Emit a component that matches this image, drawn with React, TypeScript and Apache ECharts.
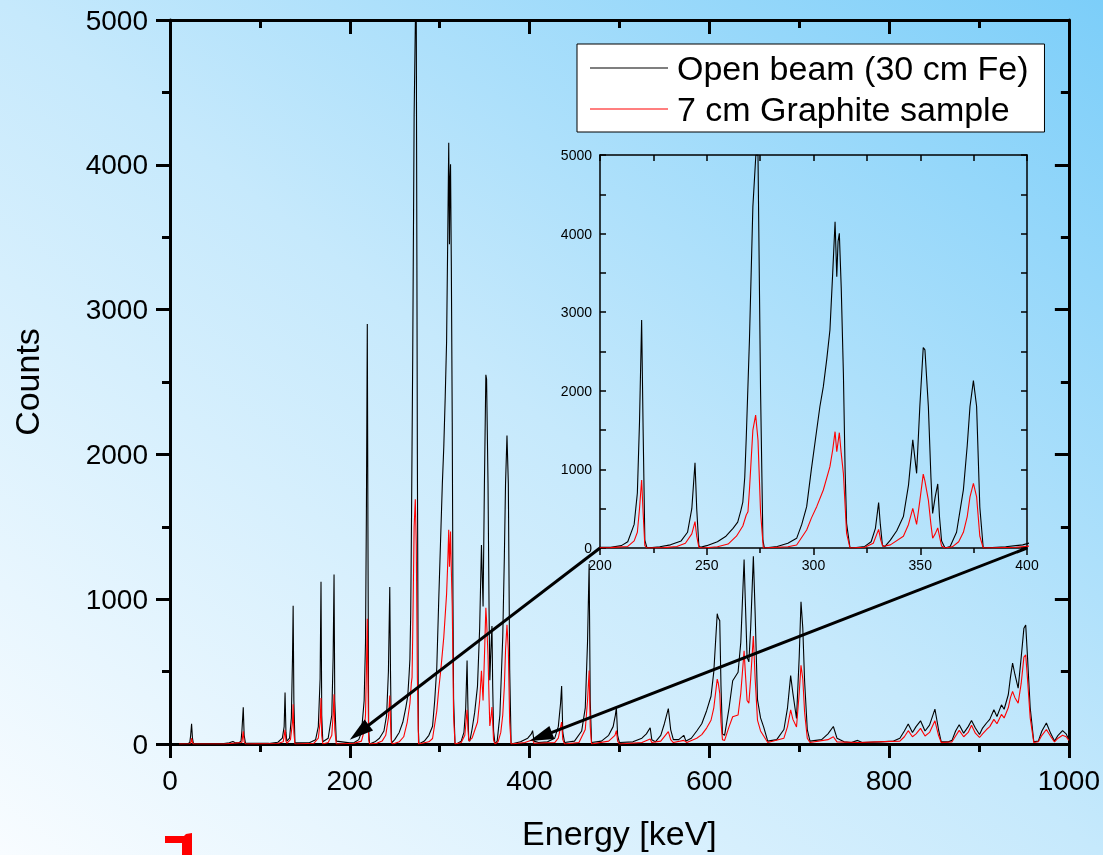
import React, { useEffect, useRef } from "react";
import * as echarts from "echarts";

// Gamma spectra: [energy keV, counts]
const OPEN_BEAM: [number, number][] = [
  [10, 0], [20, 2], [22, 10], [23, 60], [24, 140], [25, 40], [26, 5], [30, 2],
  [60, 3], [66, 8], [70, 18], [72, 10], [76, 6], [79, 20], [80, 90], [81.5, 253], [82.5, 60], [84, 5],
  [110, 4], [120, 12], [125, 40], [127, 120], [128, 356], [129, 80], [130, 20], [133, 40], [135, 180], [136.3, 600], [137, 955], [137.8, 300], [139, 10],
  [155, 8], [162, 30], [165, 120], [167, 450], [168, 1120], [168.8, 200], [170, 15], [176, 40], [180, 200], [181.5, 600], [182.5, 1170], [183.3, 300], [185, 20],
  [200, 8], [205, 10], [210, 30], [213, 80], [216, 300], [217.5, 700], [218.5, 1600], [219.5, 2900], [220.2, 1500], [221, 100], [222, 0],
  [228, 15], [233, 40], [238, 90], [241, 200], [243, 500], [244.5, 1085], [245.3, 500], [246.3, 30], [247, 10],
  [250, 30], [255, 80], [259, 150], [262.3, 250], [264.5, 330], [266, 480], [266.9, 585], [267.8, 900], [268.5, 1400], [270, 2650], [271.6, 4340], [273, 5000], [274, 5000], [275.2, 2000], [276.3, 100], [277, 0],
  [283, 20], [288, 60], [292.1, 123], [294.5, 300], [296.8, 526], [299, 1000], [301.5, 1501], [303, 1800], [304.6, 2053], [306.2, 2400], [307.7, 2774], [309, 3500], [310.1, 4152], [310.9, 3452], [311.5, 3900], [312.1, 4003], [313, 3300], [314, 2222], [314.8, 1000], [315.5, 314], [317.1, 0],
  [320, 5], [324, 20], [327, 80], [329, 250], [330.5, 577], [331.3, 300], [332.3, 30],
  [333.5, 20], [336, 100], [339, 220], [342.1, 400], [344.5, 800], [346.5, 1375], [348.3, 950], [349.8, 1800], [351.4, 2550], [352.2, 2520], [353.8, 1800], [355, 900], [355.8, 440], [357, 650], [358.2, 815], [359, 400], [360, 90], [361.6, 0],
  [364, 20], [367, 200], [370.2, 740], [372, 1300], [373.3, 1800], [374.9, 2130], [376.4, 1800], [377.9, 520], [379.5, 0],
  [390, 15], [398, 40], [402, 70], [403.4, 92], [405, 20], [410, 10], [420, 15], [428, 40], [432, 120], [434.5, 280], [435.7, 401], [437, 80], [439, 10],
  [450, 20], [458, 90], [462, 250], [464.5, 700], [466.3, 1243], [467.5, 300], [469, 10],
  [480, 20], [488, 60], [493, 120], [495.5, 200], [496.6, 252], [498, 60], [500, 10],
  [515, 15], [525, 40], [530, 70], [534.2, 112], [536, 30], [540, 15], [546, 60], [550, 140], [554.4, 245], [557, 100], [560, 30], [566, 30], [571.6, 60], [574, 20],
  [580, 40], [586, 90], [591.6, 140], [597, 230], [601.9, 330], [605, 500], [608.8, 900], [610, 870], [611.6, 852], [613, 400], [614.6, 69], [617, 60],
  [622, 250], [626, 437], [632, 496], [635, 700], [638.7, 1274], [640, 1000], [642, 600], [644, 567], [646, 800], [649, 1297], [651, 900], [653.6, 306], [657, 180], [660.5, 117], [665, 20],
  [675, 30], [683, 100], [687, 250], [690.5, 472], [693, 350], [697, 176], [700, 600], [702, 982], [704, 800], [706, 435], [709, 100], [712, 20],
  [725, 30], [732, 70], [738, 121], [742, 40], [750, 15], [758, 10], [765, 25], [770, 10], [790, 15],
  [805, 20], [812, 40], [817, 90], [821.3, 138], [826, 80], [830, 120], [835, 160], [840, 90], [845, 130], [851, 241], [855, 100], [858, 15],
  [866, 15], [870, 25], [874, 90], [878, 133], [883, 75], [888, 120], [891.7, 163], [896, 110], [900.6, 66], [904, 110], [908.4, 145], [912, 170],
  [916.6, 236], [920, 190], [925, 270], [928, 240], [932.6, 340], [935, 460], [937.4, 558], [940, 480], [943.6, 386], [947, 600], [950, 800], [952, 822], [954, 600], [957, 250], [961, 15],
  [966, 20], [970, 90], [975, 145], [980, 70], [984, 20], [988, 60], [993, 92], [997, 70], [1000, 30],
];

const GRAPHITE: [number, number][] = [
  [10, 0], [22, 2], [23.5, 15], [24, 40], [25, 10], [26, 0], [60, 0], [70, 5], [80, 10], [81.5, 87], [82.5, 15], [84, 0],
  [120, 3], [126, 15], [128, 98], [129, 20], [130, 5], [134, 30], [136.3, 150], [137, 275], [137.8, 80], [139, 0],
  [160, 5], [165, 40], [167, 150], [168, 317], [168.8, 60], [170, 0], [176, 10], [180, 60], [181.5, 200], [182.5, 344], [183.3, 100], [185, 0],
  [205, 5], [213, 20], [216, 90], [217.5, 200], [218.5, 500], [219.5, 865], [220.2, 450], [221, 30], [222, 0],
  [230, 5], [236, 20], [240, 60], [243, 180], [244.5, 335], [245.3, 150], [246.3, 10], [248, 0],
  [255, 15], [260, 50], [263.9, 150], [266.9, 280], [268.5, 420], [269.3, 460], [270, 740], [271.6, 1500], [272.9, 1690], [274, 1374], [275.2, 460], [276.5, 0],
  [288, 15], [292.1, 38], [296.8, 229], [299, 380], [301.5, 526], [304.6, 738], [307.7, 1035], [309, 1250], [310.1, 1480], [310.9, 1225], [312.1, 1467], [313, 1200], [314, 950], [315.5, 187], [317.1, 0],
  [324, 10], [328, 60], [330.5, 237], [331.5, 100], [332.5, 20],
  [336, 40], [342.1, 150], [344.5, 300], [346.5, 505], [348.3, 300], [349.8, 600], [351.4, 940], [352.2, 850], [353.8, 610], [355, 300], [355.8, 125], [357, 180], [358.2, 255], [359, 150], [360, 25], [361.6, 0],
  [365, 15], [368, 80], [370.2, 200], [372, 400], [373.3, 650], [374.9, 823], [376.4, 650], [377.9, 150], [379.5, 0],
  [395, 10], [403.4, 30], [405, 5], [428, 10], [432, 40], [435.7, 152], [437, 30], [439, 0],
  [455, 10], [462, 100], [464.5, 300], [466.3, 508], [467.5, 120], [469, 0],
  [488, 20], [495, 60], [496.6, 93], [498, 20], [500, 0],
  [525, 10], [534.2, 34], [536, 10], [546, 20], [554.4, 86], [557, 30], [560, 10], [571.6, 25], [575, 10],
  [586, 40], [591.6, 65], [597, 110], [601.9, 164], [605, 250], [608.8, 448], [610, 420], [611.6, 350], [613, 150], [614.6, 30], [617, 25],
  [622, 120], [626, 188], [632, 200], [635, 350], [638.7, 643], [640, 500], [642, 300], [644, 282], [646, 450], [649, 745], [651, 450], [653.6, 165], [657, 90], [660.5, 55], [665, 10],
  [683, 40], [687, 120], [690.5, 235], [693, 170], [697, 117], [700, 350], [702, 544], [704, 450], [706, 220], [709, 40], [712, 10],
  [732, 30], [738, 50], [742, 15], [765, 10],
  [812, 20], [817, 50], [821.3, 92], [826, 50], [830, 70], [835, 108], [840, 55], [845, 80], [851, 160], [855, 60], [858, 10],
  [870, 15], [874, 55], [878, 94], [883, 50], [888, 80], [891.7, 130], [896, 75], [900.6, 45], [904, 70], [908.4, 100], [912, 120],
  [916.6, 170], [920, 140], [925, 204], [928, 180], [932.6, 250], [935, 320], [937.4, 363], [940, 320], [943.6, 282], [947, 420], [950, 600], [952, 615], [954, 450], [957, 180], [961, 10],
  [966, 15], [970, 60], [975, 100], [980, 50], [984, 15], [988, 40], [993, 60], [997, 50], [1000, 25],
];

const SERIES_NAMES = ["Open beam (30 cm Fe)", "7 cm Graphite sample"];
const SERIES_COLORS = ["#000000", "#ff0000"];

// Axis ranges / steps
const MAIN_X = { min: 0, max: 1000, interval: 200 };
const MAIN_Y = { min: 0, max: 5000, interval: 1000 };
const ZOOM_X = { min: 200, max: 400, interval: 50 };
const ZOOM_Y = { min: 0, max: 5000, interval: 1000 };

// Points the zoom arrows aim at, in main-plot data units
const ARROW_TARGETS: [number, number][] = [[200, 30], [400, 20]];

const FONT = "Liberation Sans, Arial, sans-serif";

function axisBase(
  range: { min: number; max: number; interval: number },
  opts: {
    gridIndex: number;
    position: string;
    labels: boolean;
    inside: boolean;
    lineWidth: number;
    tickLen: number;
    minorLen: number;
    fontSize: number;
    labelMargin: number;
  }
) {
  return {
    type: "value",
    gridIndex: opts.gridIndex,
    position: opts.position,
    min: range.min,
    max: range.max,
    interval: range.interval,
    axisLine: { show: true, onZero: false, lineStyle: { color: "#000", width: opts.lineWidth } },
    axisTick: { show: true, inside: opts.inside, length: opts.tickLen, lineStyle: { color: "#000", width: opts.lineWidth } },
    minorTick: { show: true, splitNumber: 2, length: opts.minorLen, lineStyle: { color: "#000", width: opts.lineWidth } },
    splitLine: { show: false },
    minorSplitLine: { show: false },
    axisLabel: {
      show: opts.labels,
      color: "#000",
      fontFamily: FONT,
      fontSize: opts.fontSize,
      margin: opts.labelMargin,
      formatter: (v: number) => String(v),
    },
  };
}

export default function App() {
  const ref = useRef<HTMLDivElement>(null);

  useEffect(() => {
    if (!ref.current) return;
    const chart = echarts.init(ref.current, undefined, { renderer: "svg" });

    const mainX = axisBase(MAIN_X, { gridIndex: 0, position: "bottom", labels: true, inside: false, lineWidth: 3, tickLen: 14, minorLen: 8, fontSize: 28, labelMargin: 22 });
    const mainXTop = axisBase(MAIN_X, { gridIndex: 0, position: "top", labels: false, inside: true, lineWidth: 3, tickLen: 14, minorLen: 8, fontSize: 28, labelMargin: 8 });
    const mainY = axisBase(MAIN_Y, { gridIndex: 0, position: "left", labels: true, inside: false, lineWidth: 3, tickLen: 14, minorLen: 8, fontSize: 28, labelMargin: 22 });
    const mainYRight = axisBase(MAIN_Y, { gridIndex: 0, position: "right", labels: false, inside: true, lineWidth: 3, tickLen: 14, minorLen: 8, fontSize: 28, labelMargin: 8 });
    const zoomX = axisBase(ZOOM_X, { gridIndex: 1, position: "bottom", labels: true, inside: false, lineWidth: 1.5, tickLen: 7, minorLen: 5, fontSize: 14, labelMargin: 10 });
    const zoomXTop = axisBase(ZOOM_X, { gridIndex: 1, position: "top", labels: false, inside: true, lineWidth: 1.5, tickLen: 6, minorLen: 6, fontSize: 14, labelMargin: 8 });
    const zoomY = axisBase(ZOOM_Y, { gridIndex: 1, position: "left", labels: true, inside: true, lineWidth: 1.5, tickLen: 6, minorLen: 6, fontSize: 14, labelMargin: 8 });
    const zoomYRight = axisBase(ZOOM_Y, { gridIndex: 1, position: "right", labels: false, inside: true, lineWidth: 1.5, tickLen: 6, minorLen: 6, fontSize: 14, labelMargin: 8 });

    Object.assign(mainX, {
      name: "Energy [keV]",
      nameLocation: "middle",
      nameGap: 72,
      nameTextStyle: { fontFamily: FONT, fontSize: 34, color: "#000" },
    });
    Object.assign(mainY, {
      name: "Counts",
      nameLocation: "middle",
      nameGap: 126,
      nameTextStyle: { fontFamily: FONT, fontSize: 34, color: "#000" },
    });

    const lineSeries = (idx: number, data: [number, number][], axisIndex: number) => ({
      type: "line",
      name: SERIES_NAMES[idx],
      xAxisIndex: axisIndex,
      yAxisIndex: axisIndex,
      data: axisIndex === 0 ? data : data.filter((d) => d[0] >= 180 && d[0] <= 420),
      symbol: "none",
      showSymbol: false,
      clip: true,
      lineStyle: { color: SERIES_COLORS[idx], width: 1.1 },
      itemStyle: { color: SERIES_COLORS[idx] },
      z: 3 + idx,
    });

    chart.setOption({
      animation: false,
      grid: [
        { left: 170, top: 20, width: 899, height: 726 },
        { left: 600, top: 155, width: 427, height: 393 },
      ],
      xAxis: [mainX, mainXTop, zoomX, zoomXTop],
      yAxis: [mainY, mainYRight, zoomY, zoomYRight],
      legend: {
        orient: "vertical",
        left: 577,
        top: 44,
        padding: [7, 16, 6, 13],
        itemGap: 7,
        itemWidth: 78,
        itemHeight: 1,
        icon: "rect",
        backgroundColor: "#ffffff",
        borderColor: "#000",
        borderWidth: 1,
        borderRadius: 0,
        data: SERIES_NAMES,
        textStyle: { fontFamily: FONT, fontSize: 34, color: "#000", padding: [0, 0, 0, 4] },
      },
      series: [
        lineSeries(0, OPEN_BEAM, 0),
        lineSeries(1, GRAPHITE, 0),
        lineSeries(0, OPEN_BEAM, 2),
        lineSeries(1, GRAPHITE, 2),
      ],
    });

    // Arrows from the inset's lower corners to the zoomed range on the main plot
    const starts = [
      chart.convertToPixel({ xAxisIndex: 2, yAxisIndex: 2 }, [ZOOM_X.min, 0]) as number[],
      chart.convertToPixel({ xAxisIndex: 2, yAxisIndex: 2 }, [ZOOM_X.max, 0]) as number[],
    ];
    const tips = ARROW_TARGETS.map((p) => chart.convertToPixel({ xAxisIndex: 0, yAxisIndex: 0 }, p) as number[]);
    const arrows: any[] = [];
    starts.forEach((s, i) => {
      const t = tips[i];
      const dx = t[0] - s[0];
      const dy = t[1] - s[1];
      const len = Math.hypot(dx, dy);
      const ux = dx / len;
      const uy = dy / len;
      const headLen = 24;
      const half = 7;
      const bx = t[0] - ux * headLen;
      const by = t[1] - uy * headLen;
      arrows.push({
        type: "line",
        shape: { x1: s[0], y1: s[1], x2: bx + ux * 4, y2: by + uy * 4 },
        style: { stroke: "#000", lineWidth: 3 },
        z: 100,
        silent: true,
      });
      arrows.push({
        type: "polygon",
        shape: {
          points: [
            [t[0], t[1]],
            [bx - uy * half, by + ux * half],
            [bx + uy * half, by - ux * half],
          ],
        },
        style: { fill: "#000" },
        z: 100,
        silent: true,
      });
    });

    chart.setOption({
      graphic: [
        {
          type: "rect",
          shape: { x: 0, y: 0, width: 1103, height: 855 },
          style: {
            fill: new echarts.graphic.LinearGradient(0, 1, 1, 0, [
              { offset: 0, color: "#f8fcff" },
              { offset: 0.5, color: "#c6e9fc" },
              { offset: 1, color: "#7ccef9" },
            ]),
          },
          z: -100,
          silent: true,
        },
        {
          type: "polygon",
          shape: {
            points: [
              [165, 836], [184, 836], [186, 834], [192, 833], [192, 855], [182, 855], [182, 843], [165, 843],
            ],
          },
          style: { fill: "#ff0000" },
          z: 50,
          silent: true,
        },
        ...arrows,
      ],
    });

    return () => chart.dispose();
  }, []);

  return (
    <div
      ref={ref}
      style={{ position: "fixed", left: 0, top: 0, width: 1103, height: 855 }}
    />
  );
}
